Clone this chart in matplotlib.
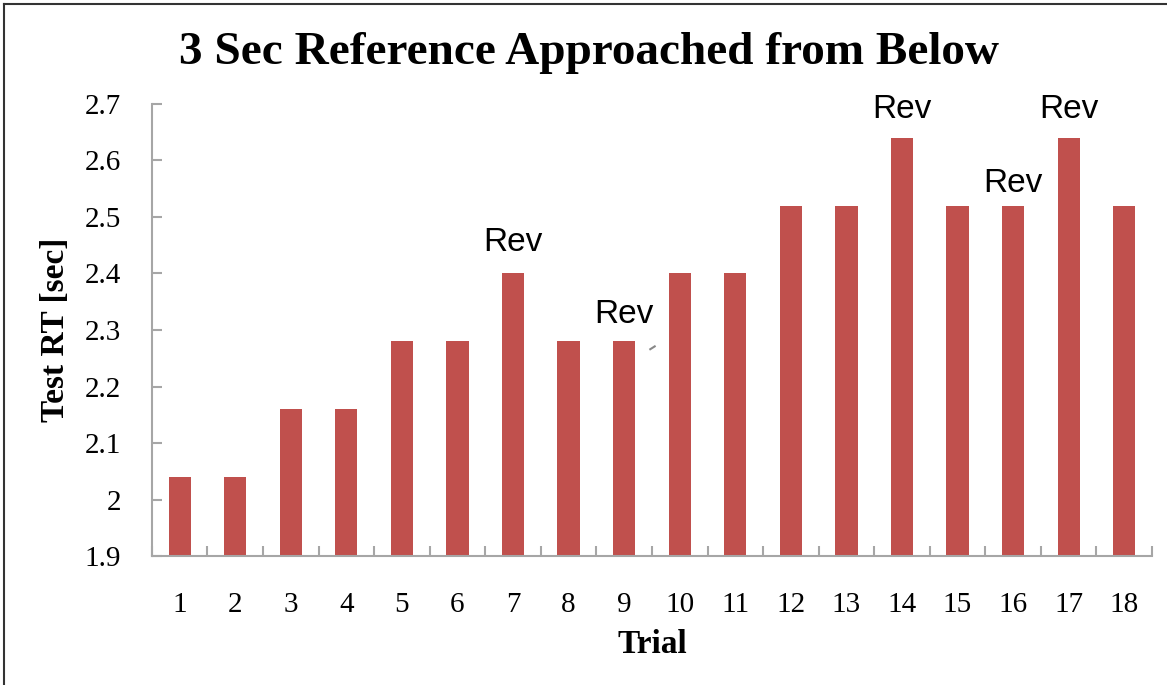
import matplotlib.pyplot as plt
from matplotlib.lines import Line2D

# data
trials = list(range(1, 19))
test_rt = [2.04, 2.04, 2.16, 2.16, 2.28, 2.28, 2.40, 2.28, 2.28,
           2.40, 2.40, 2.52, 2.52, 2.64, 2.52, 2.52, 2.64, 2.52]
rev_trials = [7, 9, 14, 16, 17]
rev_y = [2.428, 2.300, 2.662, 2.532, 2.662]
y_ticks = [1.9, 2.0, 2.1, 2.2, 2.3, 2.4, 2.5, 2.6, 2.7]
y_labels = ['1.9', '2', '2.1', '2.2', '2.3', '2.4', '2.5', '2.6', '2.7']

serif = ['Liberation Serif', 'DejaVu Serif']
axis_grey = '#a6a6a6'

fig = plt.figure(figsize=(11.67, 6.85), dpi=100)
ax = fig.add_axes([0.1302, 0.1883, 0.8569, 0.6599])

pos = [t - 1 for t in trials]
ax.bar(pos, test_rt, width=0.4, color='#c0504d', bottom=0)

for t, y in zip(rev_trials, rev_y):
    ax.text(t - 1, y, 'Rev', ha='center', va='bottom', fontsize=24,
            family=['Liberation Sans', 'DejaVu Sans'])

# the little grey tick mark next to bar 9
ax.plot([8.47, 8.55], [2.266, 2.271], color='#888888', lw=1.5)

ax.set_ylim(1.9, 2.7)
ax.set_xlim(-0.5, 17.5)
ax.set_yticks(y_ticks)
ax.set_yticklabels(y_labels, fontsize=21, family=serif)
ax.set_xticks(pos)
ax.set_xticklabels([str(t) for t in trials], fontsize=21, family=serif)
ax.set_xticks([p - 0.5 for p in pos] + [17.5], minor=True)

ax.tick_params(axis='x', which='major', length=0, pad=26)
ax.tick_params(axis='x', which='minor', direction='in', length=7,
               width=1.5, color=axis_grey)
ax.tick_params(axis='y', direction='in', length=7, width=1.5,
               color=axis_grey, pad=22)

for s in ['top', 'right']:
    ax.spines[s].set_visible(False)
for s in ['left', 'bottom']:
    ax.spines[s].set_color(axis_grey)
    ax.spines[s].set_linewidth(1.5)

ax.set_xlabel('Trial', fontsize=24, fontweight='bold', family=serif, labelpad=8)
ax.set_ylabel('Test RT [sec]', fontsize=24, fontweight='bold', family=serif, labelpad=10)

fig.text(0.505, 0.922, '3 Sec Reference Approached from Below', ha='center',
         va='center', fontsize=34, fontweight='bold', family=serif)

# frame on top and left edges
fig.add_artist(Line2D([0.0035, 1.0], [0.9935, 0.9935], color='#333333', lw=1.5,
                      transform=fig.transFigure))
fig.add_artist(Line2D([0.0035, 0.0035], [0.0, 0.9935], color='#333333', lw=1.5,
                      transform=fig.transFigure))

fig.savefig('out.png', dpi=100)
